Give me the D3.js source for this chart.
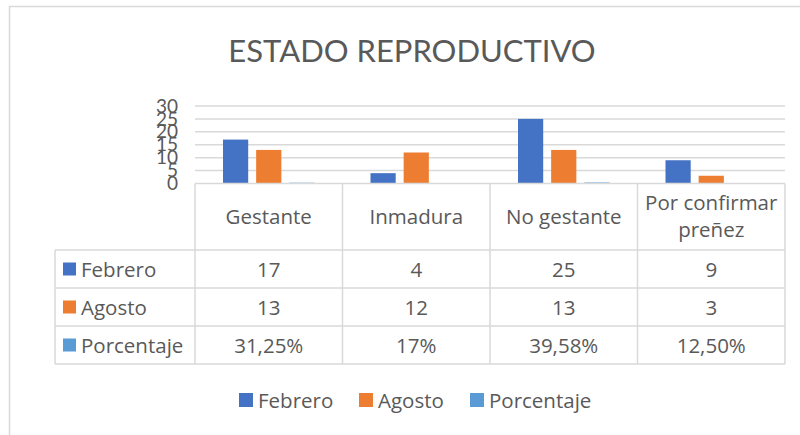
<!DOCTYPE html>
<html>
<head>
<meta charset="utf-8">
<script src="https://cdn.jsdelivr.net/npm/d3@7"></script>
<style>
  body { margin: 0; background: #fff; }
  svg { font-family: "Open Sans", Lato, sans-serif; }
</style>
</head>
<body>
<div id="chart"></div>
<script>
const width = 800, height = 435;

const categories = ["Gestante", "Inmadura", "No gestante", "Por confirmar preñez"];
const headerLines = [["Gestante"], ["Inmadura"], ["No gestante"], ["Por confirmar", "preñez"]];
const seriesNames = ["Febrero", "Agosto", "Porcentaje"];
const febrero = [17, 4, 25, 9];
const agosto = [13, 12, 13, 3];
const porcentaje = [0.3125, 0.17, 0.3958, 0.125];
const porcentajeLabels = ["31,25%", "17%", "39,58%", "12,50%"];
const yTicks = [0, 5, 10, 15, 20, 25, 30];

const colors = { Febrero: "#4472C4", Agosto: "#ED7D31", Porcentaje: "#5B9BD5" };
const textCol = "#595959";
const gridCol = "#D9D9D9";

const series = [
  { name: "Febrero", values: febrero, labels: febrero.map(String) },
  { name: "Agosto", values: agosto, labels: agosto.map(String) },
  { name: "Porcentaje", values: porcentaje, labels: porcentajeLabels }
];

const svg = d3.select("#chart").append("svg")
  .attr("width", width)
  .attr("height", height);

// chart border
svg.append("rect")
  .attr("x", 9.5).attr("y", 6.5)
  .attr("width", 820).attr("height", 450)
  .attr("fill", "none")
  .attr("stroke", gridCol)
  .attr("stroke-width", 1.5);

svg.append("text")
  .attr("x", 412).attr("y", 62)
  .attr("text-anchor", "middle")
  .attr("fill", textCol)
  .style("font-family", "Lato, sans-serif")
  .style("font-size", "31px")
  .text("ESTADO REPRODUCTIVO");

const plotL = 195, plotR = 785, plotT = 106, plotB = 183.5;

const x0 = d3.scaleBand().domain(categories).range([plotL, plotR]).padding(0);
const x1 = d3.scaleBand().domain(seriesNames)
  .range([28, x0.bandwidth() - 28]).paddingInner(0.24);
const y = d3.scaleLinear().domain([0, 30]).range([plotB, plotT]);

// gridlines
svg.append("g")
  .selectAll("line")
  .data(yTicks.slice(1))
  .join("line")
  .attr("x1", plotL).attr("x2", plotR)
  .attr("y1", d => y(d)).attr("y2", d => y(d))
  .attr("stroke", gridCol)
  .attr("stroke-width", 1.5);

// y axis labels (they crowd each other, as in the original)
const yAxis = d3.axisLeft(y).tickValues(yTicks).tickSize(0).tickPadding(0);
const ya = svg.append("g").attr("transform", "translate(178,0)").call(yAxis);
ya.select(".domain").remove();
ya.selectAll("text")
  .attr("fill", textCol)
  .style("font-size", "19px")
  .style("font-family", "Lato, sans-serif");

// bars
const groups = svg.append("g")
  .selectAll("g")
  .data(series)
  .join("g")
  .attr("fill", d => colors[d.name]);

groups.selectAll("rect")
  .data(s => s.values.map((v, i) => ({ cat: categories[i], v, name: s.name })))
  .join("rect")
  .attr("x", d => x0(d.cat) + x1(d.name))
  .attr("width", x1.bandwidth())
  .attr("y", d => y(d.v))
  .attr("height", d => y(0) - y(d.v));

// data table
const tableL = 55;
const rowY = [183.5, 250, 288, 326, 364];
const tbl = svg.append("g")
  .attr("stroke", gridCol)
  .attr("stroke-width", 1.5)
  .attr("fill", "none");

tbl.append("line").attr("x1", plotL).attr("x2", plotR).attr("y1", rowY[0]).attr("y2", rowY[0]);
rowY.slice(1).forEach(yy => {
  tbl.append("line").attr("x1", tableL).attr("x2", plotR).attr("y1", yy).attr("y2", yy);
});
tbl.append("line").attr("x1", tableL).attr("x2", tableL).attr("y1", rowY[1]).attr("y2", rowY[4]);
categories.forEach(c => {
  tbl.append("line").attr("x1", x0(c)).attr("x2", x0(c)).attr("y1", rowY[0]).attr("y2", rowY[4]);
});
tbl.append("line").attr("x1", plotR).attr("x2", plotR).attr("y1", rowY[0]).attr("y2", rowY[4]);

const fs = "20.5px";
// header
categories.forEach((c, i) => {
  const lines = headerLines[i];
  const cx = x0(c) + x0.bandwidth() / 2;
  lines.forEach((ln, j) => {
    svg.append("text")
      .attr("x", cx)
      .attr("y", lines.length === 1 ? 224 : 210 + j * 27)
      .attr("text-anchor", "middle")
      .attr("fill", textCol)
      .style("font-size", fs)
      .text(ln);
  });
});

// rows
series.forEach((s, r) => {
  const yc = (rowY[r + 1] + rowY[r + 2]) / 2;
  svg.append("rect")
    .attr("x", 63).attr("y", yc - 6.5)
    .attr("width", 13).attr("height", 13)
    .attr("fill", colors[s.name]);
  svg.append("text")
    .attr("x", 81).attr("y", yc + 7.5)
    .attr("fill", textCol)
    .style("font-size", fs)
    .text(s.name);
  s.labels.forEach((lab, i) => {
    svg.append("text")
      .attr("x", x0(categories[i]) + x0.bandwidth() / 2)
      .attr("y", yc + 7.5)
      .attr("text-anchor", "middle")
      .attr("fill", textCol)
      .style("font-size", fs)
      .text(lab);
  });
});

// bottom legend
const legendX = [239, 359, 470];
const legend = svg.append("g")
  .selectAll("g")
  .data(seriesNames)
  .join("g")
  .attr("transform", (d, i) => `translate(${legendX[i]},400)`);
legend.append("rect")
  .attr("x", 0).attr("y", -7)
  .attr("width", 14).attr("height", 14)
  .attr("fill", d => colors[d]);
legend.append("text")
  .attr("x", 19).attr("y", 7.5)
  .attr("fill", textCol)
  .style("font-size", fs)
  .text(d => d);
</script>
</body>
</html>
